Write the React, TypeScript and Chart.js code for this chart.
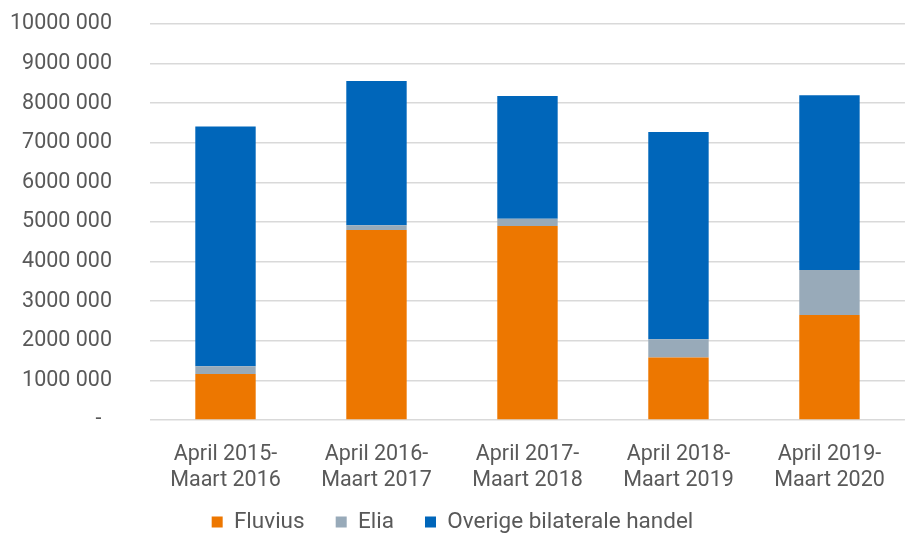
import React, { useEffect, useRef } from "react";
import { Chart, registerables } from "chart.js";

Chart.register(...registerables);

const categories: string[][] = [
  ["April 2015-", "Maart 2016"],
  ["April 2016-", "Maart 2017"],
  ["April 2017-", "Maart 2018"],
  ["April 2018-", "Maart 2019"],
  ["April 2019-", "Maart 2020"],
];
const fluvius = [1160000, 4800000, 4900000, 1580000, 2650000];
const elia = [200000, 120000, 180000, 460000, 1140000];
const overige = [6050000, 3640000, 3100000, 5230000, 4410000];
const seriesNames = ["Fluvius", "Elia", "Overige bilaterale handel"];
const seriesColors = ["#ED7700", "#98AAB9", "#0066BA"];
const yMax = 10000000;
const yStep = 1000000;

function formatTick(v: number): string {
  if (v === 0) return "-  ";
  const thousands = Math.floor(v / 1000);
  const rest = v % 1000;
  return `${thousands} ${String(rest).padStart(3, "0")}`;
}

const FONT = "Roboto, sans-serif";

export default function App() {
  const ref = useRef<HTMLCanvasElement | null>(null);
  useEffect(() => {
    if (!ref.current) return;
    const data = [fluvius, elia, overige];
    const chart = new Chart(ref.current, {
      type: "bar",
      data: {
        labels: categories,
        datasets: seriesNames.map((name, i) => ({
          label: name,
          data: data[i],
          backgroundColor: seriesColors[i],
          borderWidth: 0,
          barPercentage: 0.8,
          categoryPercentage: 0.5,
        })),
      },
      options: {
        animation: false,
        responsive: false,
        maintainAspectRatio: false,
        layout: { padding: { top: 24, right: 2, left: 0, bottom: -10.25 } },
        plugins: {
          tooltip: { enabled: false },
          legend: {
            position: "bottom",
            labels: {
              color: "#595959",
              font: { family: FONT, size: 22.5 },
              boxWidth: 11,
              boxHeight: 11,
              padding: 8.75,
              generateLabels: (c: any) => {
                const items = Chart.defaults.plugins.legend.labels.generateLabels(c);
                return items.map((it: any, i: number) => ({
                  ...it,
                  text: i < items.length - 1 ? it.text + "    " : it.text,
                  fontColor: "#595959",
                }));
              },
            },
          },
        },
        scales: {
          x: {
            stacked: true,
            afterFit: (scale: any) => {
              scale.height = 82;
            },
            grid: { display: false, drawTicks: false },
            border: { display: false },
            ticks: {
              color: "#595959",
              font: { family: FONT, size: 21.5, lineHeight: 1.21 },
              padding: 22,
              maxRotation: 0,
              autoSkip: false,
            },
          },
          y: {
            stacked: true,
            min: 0,
            max: yMax,
            afterFit: (scale: any) => {
              scale.width = 150;
              scale.paddingTop = 0;
              scale.paddingBottom = 0;
            },
            grid: { color: "#D9D9D9", lineWidth: 1.5, drawTicks: false },
            border: { display: false },
            ticks: {
              stepSize: yStep,
              color: "#595959",
              font: { family: FONT, size: 21.5 },
              padding: 38,
              callback: (v: any) => formatTick(Number(v)),
            },
          },
        },
      },
    });
    return () => chart.destroy();
  }, []);
  return (
    <div style={{ position: "fixed", left: 0, top: 0, width: 907, height: 533, background: "#fff" }}>
      <canvas ref={ref} width={907} height={533} style={{ width: 907, height: 533 }} />
    </div>
  );
}
